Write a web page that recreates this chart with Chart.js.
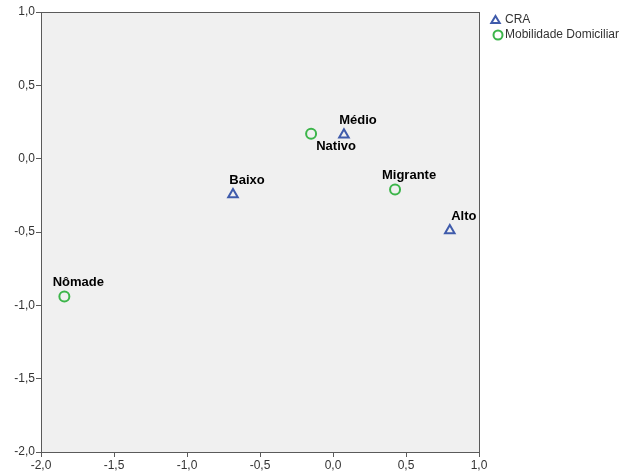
<!DOCTYPE html>
<html>
<head>
<meta charset="utf-8">
<script src="https://cdn.jsdelivr.net/npm/chart.js@4.4.1/dist/chart.umd.min.js"></script>
<style>
  html, body { margin: 0; padding: 0; background: #ffffff; }
  #wrap { width: 626px; height: 473px; position: relative; }
</style>
</head>
<body>
<div id="wrap"><canvas id="c" width="626" height="473"></canvas></div>
<script>
// Category points: CRA
const craCategories = ['Baixo', 'Médio', 'Alto'];
const craX = [-0.685, 0.075, 0.80];
const craY = [-0.245, 0.163, -0.49];

// Category points: Mobilidade Domiciliar
const mobCategories = ['Nômade', 'Nativo', 'Migrante'];
const mobX = [-1.84, -0.15, 0.425];
const mobY = [-0.94, 0.17, -0.21];

// Axis ticks
const xTicks = [-2.0, -1.5, -1.0, -0.5, 0.0, 0.5, 1.0];
const yTicks = [-2.0, -1.5, -1.0, -0.5, 0.0, 0.5, 1.0];

const seriesNames = ['CRA', 'Mobilidade Domiciliar'];

const FONT = 'Arial, "Liberation Sans", sans-serif';
const BLUE = '#3f5bab';
const GREEN = '#3cb54a';

const fmt = v => v.toFixed(1).replace('.', ',');

function toPoints(xs, ys, names) {
  return xs.map((x, i) => ({ x: x, y: ys[i], name: names[i] }));
}

// Label placement relative to each marker (pixels)
const labelOffset = { default: [14, -14], 'Nativo': [25, 13] };

const plotFrame = {
  id: 'plotFrame',
  beforeDraw(chart) {
    const { ctx, chartArea: a } = chart;
    ctx.save();
    ctx.fillStyle = '#f0f0f0';
    ctx.fillRect(a.left, a.top, a.right - a.left, a.bottom - a.top);
    ctx.restore();
  },
  afterDraw(chart) {
    const { ctx, chartArea: a } = chart;
    ctx.save();
    ctx.strokeStyle = '#5a5a5a';
    ctx.lineWidth = 1;
    ctx.strokeRect(Math.round(a.left) + 0.5, Math.round(a.top) + 0.5,
                   Math.round(a.right - a.left), Math.round(a.bottom - a.top));
    ctx.restore();
  }
};

const pointLabels = {
  id: 'pointLabels',
  afterDatasetsDraw(chart) {
    const { ctx } = chart;
    ctx.save();
    ctx.font = 'bold 13px ' + FONT;
    ctx.fillStyle = '#000';
    ctx.textAlign = 'center';
    ctx.textBaseline = 'middle';
    chart.data.datasets.forEach((ds, di) => {
      const meta = chart.getDatasetMeta(di);
      meta.data.forEach((el, i) => {
        const name = ds.data[i].name;
        const off = labelOffset[name] || labelOffset.default;
        ctx.fillText(name, el.x + off[0], el.y + off[1]);
      });
    });
    ctx.restore();
  }
};

const sideLegend = {
  id: 'sideLegend',
  afterDraw(chart) {
    const { ctx } = chart;
    ctx.save();
    ctx.font = '12px ' + FONT;
    ctx.fillStyle = '#333';
    ctx.textBaseline = 'middle';
    ctx.textAlign = 'left';
    ctx.lineWidth = 2;
    // triangle
    const tx = 495.5, ty = 20;
    ctx.strokeStyle = BLUE;
    ctx.beginPath();
    ctx.moveTo(tx, ty - 4);
    ctx.lineTo(tx + 4.2, ty + 3);
    ctx.lineTo(tx - 4.2, ty + 3);
    ctx.closePath();
    ctx.stroke();
    ctx.fillText(seriesNames[0], 505, 20);
    // circle
    ctx.strokeStyle = GREEN;
    ctx.beginPath();
    ctx.arc(498, 35, 4.5, 0, Math.PI * 2);
    ctx.stroke();
    ctx.fillText(seriesNames[1], 505, 35);
    ctx.restore();
  }
};

const axisCommon = (ticks) => ({
  type: 'linear',
  min: -2,
  max: 1,
  afterBuildTicks: axis => { axis.ticks = ticks.map(v => ({ value: v })); },
  grid: { display: true, drawOnChartArea: false, drawTicks: true, tickLength: 5, color: '#5a5a5a' },
  border: { display: true, color: '#5a5a5a', width: 1 },
  ticks: {
    callback: v => fmt(v),
    color: '#333',
    font: { family: FONT, size: 12 },
    padding: 1,
    maxRotation: 0,
    autoSkip: false
  }
});

const xScale = axisCommon(xTicks);
xScale.position = 'bottom';
xScale.afterFit = s => { s.height = 21; };
const yScale = axisCommon(yTicks);
yScale.position = 'left';
yScale.afterFit = s => { s.width = 41; };

new Chart(document.getElementById('c'), {
  type: 'scatter',
  data: {
    datasets: [
      {
        label: seriesNames[0],
        data: toPoints(craX, craY, craCategories),
        pointStyle: 'triangle',
        pointRadius: 5.5,
        borderColor: BLUE,
        backgroundColor: 'rgba(0,0,0,0)',
        borderWidth: 2
      },
      {
        label: seriesNames[1],
        data: toPoints(mobX, mobY, mobCategories),
        pointStyle: 'circle',
        pointRadius: 5,
        borderColor: GREEN,
        backgroundColor: 'rgba(0,0,0,0)',
        borderWidth: 2
      }
    ]
  },
  options: {
    responsive: false,
    animation: false,
    layout: { padding: { left: 0, top: 12, right: 147, bottom: 0 } },
    plugins: { legend: { display: false }, tooltip: { enabled: false } },
    scales: { x: xScale, y: yScale }
  },
  plugins: [plotFrame, pointLabels, sideLegend]
});
</script>
</body>
</html>
